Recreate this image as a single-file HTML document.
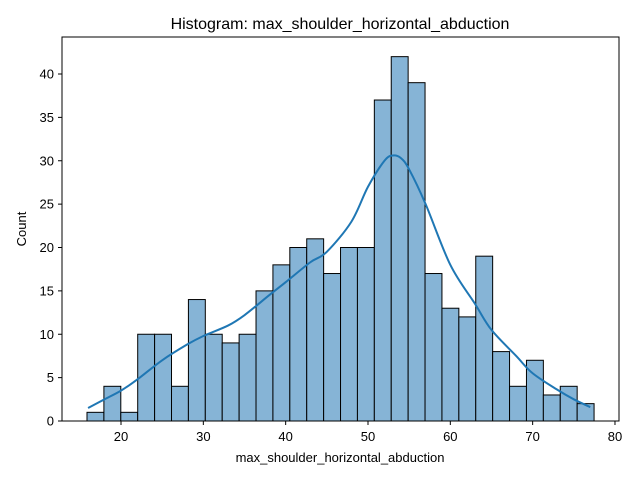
<!DOCTYPE html>
<html><head><meta charset="utf-8">
<style>
body{margin:0;background:#fff;font-family:"Liberation Sans",sans-serif;}
svg text{font-family:"Liberation Sans",sans-serif;}
</style></head>
<body>
<svg id="chart" width="640" height="480">
<rect width="640" height="480" fill="#fff"/>
<text x="340" y="29" font-size="16" text-anchor="middle">Histogram: max_shoulder_horizontal_abduction</text>
<g id="bars"></g>
<path id="kde" fill="none" stroke="#1f77b4" stroke-width="2"/>
<rect x="62" y="37" width="557" height="384" fill="none" stroke="#000" stroke-width="1"/>
<g id="xticks"></g>
<g id="yticks"></g>
<text x="340" y="462" font-size="13" text-anchor="middle">max_shoulder_horizontal_abduction</text>
<text transform="translate(26,229) rotate(-90)" font-size="13" text-anchor="middle">Count</text>
</svg>
<script>
const counts=[1,4,1,10,10,4,14,10,9,10,15,18,20,21,17,20,20,37,42,39,17,13,12,19,8,4,7,3,4,2];
const binStart=15.87;
const binWidth=2.053;
const kdeX=[16,18,20,22,25,28,30,33,35,38,40,43,45,48,50,52,53,54,55,57,60,63,65,68,70,73,75,77];
const kdeY=[1.5,2.5,3.5,4.8,7,8.8,9.8,11,12.2,14.5,16,18.3,19.5,23,27,30,30.6,30.3,29,25,18,13.5,10.5,7.5,5.5,3.6,2.5,1.6];
const xTicks=[20,30,40,50,60,70,80];
const yTicks=[0,5,10,15,20,25,30,35,40];
const X=v=>121+(v-20)*8.233;
const Y=v=>421-v*8.675;
const NS="http://www.w3.org/2000/svg";
const bars=document.getElementById('bars');
counts.forEach((c,i)=>{
 const r=document.createElementNS(NS,'rect');
 const x0=X(binStart+i*binWidth),x1=X(binStart+(i+1)*binWidth);
 r.setAttribute('x',x0);r.setAttribute('width',x1-x0);
 r.setAttribute('y',Y(c));r.setAttribute('height',Y(0)-Y(c));
 r.setAttribute('fill','#86b4d6');r.setAttribute('stroke','#000');r.setAttribute('stroke-width','1');
 
 
 bars.appendChild(r);
});
const pts=kdeX.map((x,i)=>[X(x),Y(kdeY[i])]);
let d='M'+pts[0][0]+','+pts[0][1];
for(let i=0;i<pts.length-1;i++){
 const p0=pts[Math.max(0,i-1)],p1=pts[i],p2=pts[i+1],p3=pts[Math.min(pts.length-1,i+2)];
 const c1=[p1[0]+(p2[0]-p0[0])/6,p1[1]+(p2[1]-p0[1])/6];
 const c2=[p2[0]-(p3[0]-p1[0])/6,p2[1]-(p3[1]-p1[1])/6];
 d+='C'+c1[0]+','+c1[1]+' '+c2[0]+','+c2[1]+' '+p2[0]+','+p2[1];
}
document.getElementById('kde').setAttribute('d',d);
const xt=document.getElementById('xticks');
xTicks.forEach(t=>{
 const l=document.createElementNS(NS,'line');
 l.setAttribute('x1',X(t));l.setAttribute('x2',X(t));l.setAttribute('y1',421);l.setAttribute('y2',425);l.setAttribute('stroke','#000');
 
 
 xt.appendChild(l);
 const s=document.createElementNS(NS,'text');
 s.setAttribute('x',X(t));s.setAttribute('y',441);s.setAttribute('font-size','13');s.setAttribute('text-anchor','middle');s.textContent=t;
 
 
 xt.appendChild(s);
});
const yt=document.getElementById('yticks');
yTicks.forEach(t=>{
 const l=document.createElementNS(NS,'line');
 l.setAttribute('x1',58);l.setAttribute('x2',62);l.setAttribute('y1',Y(t));l.setAttribute('y2',Y(t));l.setAttribute('stroke','#000');
 
 
 yt.appendChild(l);
 const s=document.createElementNS(NS,'text');
 s.setAttribute('x',54);s.setAttribute('y',Y(t)+4.5);s.setAttribute('font-size','13');s.setAttribute('text-anchor','end');s.textContent=t;
 
 
 yt.appendChild(s);
});
</script>
</body></html>
